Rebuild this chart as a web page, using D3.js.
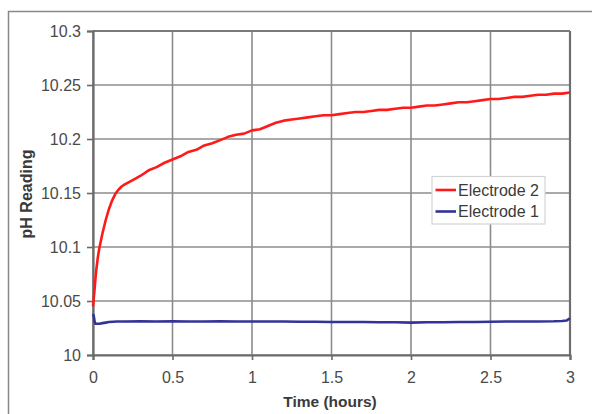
<!DOCTYPE html>
<html>
<head>
<meta charset="utf-8">
<script src="https://cdn.jsdelivr.net/npm/d3@7"></script>
<style>
  html, body { margin: 0; padding: 0; background: #ffffff; }
  svg { display: block; }
  text { font-family: "Liberation Sans", Arial, sans-serif; }
</style>
</head>
<body>
<svg id="chart" width="592" height="414"></svg>
<script>
// ---- data ----
const xTicks = [0, 0.5, 1, 1.5, 2, 2.5, 3];
const yTicks = [10, 10.05, 10.1, 10.15, 10.2, 10.25, 10.3];
const seriesNames = ["Electrode 2", "Electrode 1"];

const timeE2 = [0, 0.005, 0.01, 0.015, 0.02, 0.03, 0.04, 0.05, 0.06, 0.07, 0.08, 0.1, 0.12, 0.14, 0.16, 0.18, 0.2,
  0.25, 0.3, 0.35, 0.4, 0.45, 0.5, 0.55, 0.6, 0.65, 0.7, 0.75, 0.8, 0.85, 0.9, 0.95, 1.0,
  1.05, 1.1, 1.15, 1.2, 1.25, 1.3, 1.35, 1.4, 1.45, 1.5, 1.55, 1.6, 1.65, 1.7, 1.75, 1.8, 1.85, 1.9, 1.95, 2.0,
  2.05, 2.1, 2.15, 2.2, 2.25, 2.3, 2.35, 2.4, 2.45, 2.5, 2.55, 2.6, 2.65, 2.7, 2.75, 2.8, 2.85, 2.9, 2.95, 3.0];
const phE2 = [10.045, 10.053, 10.061, 10.070, 10.078, 10.090, 10.099, 10.106, 10.113, 10.119, 10.125, 10.135, 10.143, 10.149, 10.153, 10.156, 10.158,
  10.162, 10.166, 10.171, 10.174, 10.178, 10.181, 10.184, 10.188, 10.190, 10.194, 10.196, 10.199, 10.202, 10.204, 10.205, 10.208,
  10.209, 10.212, 10.215, 10.217, 10.218, 10.219, 10.220, 10.221, 10.222, 10.222, 10.223, 10.224, 10.225, 10.225, 10.226, 10.227, 10.227, 10.228, 10.229, 10.229,
  10.230, 10.231, 10.231, 10.232, 10.233, 10.234, 10.234, 10.235, 10.236, 10.237, 10.237, 10.238, 10.239, 10.239, 10.240, 10.241, 10.241, 10.242, 10.242, 10.243];

const timeE1 = [0, 0.005, 0.01, 0.015, 0.02, 0.04, 0.06, 0.08, 0.1, 0.15, 0.2, 0.3, 0.4, 0.5, 0.6, 0.7, 0.8, 0.9, 1.0,
  1.1, 1.2, 1.3, 1.4, 1.5, 1.6, 1.7, 1.8, 1.9, 2.0, 2.1, 2.2, 2.3, 2.4, 2.5, 2.6, 2.7, 2.8, 2.9, 2.95, 2.98, 3.0];
const phE1 = [10.038, 10.036, 10.031, 10.029, 10.029, 10.029, 10.0295, 10.030, 10.0305, 10.031, 10.031, 10.0312, 10.031, 10.0312, 10.031, 10.031, 10.0312, 10.031, 10.031,
  10.031, 10.031, 10.0308, 10.0308, 10.0305, 10.0305, 10.0305, 10.0303, 10.0303, 10.030, 10.0303, 10.0303, 10.0305, 10.0305, 10.0308, 10.031, 10.031, 10.031, 10.0312, 10.0315, 10.032, 10.034];

const colors = ["#ff1a1a", "#333399"];

// ---- layout ----
const svg = d3.select("#chart");
const plot = { left: 93, right: 570, top: 31, bottom: 355 };

const x = d3.scaleLinear().domain([0, 3]).range([plot.left, plot.right]);
const y = d3.scaleLinear().domain([10, 10.3]).range([plot.bottom, plot.top]);

// outer chart frame
svg.append("rect")
  .attr("x", 8.5).attr("y", 11.5)
  .attr("width", 700).attr("height", 500)
  .attr("fill", "#ffffff")
  .attr("stroke", "#888888").attr("stroke-width", 1.5);

// gridlines
const grid = svg.append("g");
grid.selectAll("line.h").data(yTicks).join("line")
  .attr("x1", plot.left).attr("x2", plot.right)
  .attr("y1", d => y(d)).attr("y2", d => y(d))
  .attr("stroke", "#8c8c8c").attr("stroke-width", 1.6);
grid.selectAll("line.v").data(xTicks).join("line")
  .attr("y1", plot.top).attr("y2", plot.bottom)
  .attr("x1", d => x(d)).attr("x2", d => x(d))
  .attr("stroke", "#8c8c8c").attr("stroke-width", 1.6);

// plot border (right side darker)
svg.append("line").attr("x1", plot.right).attr("x2", plot.right)
  .attr("y1", plot.top).attr("y2", plot.bottom)
  .attr("stroke", "#6e6e6e").attr("stroke-width", 2.2);
svg.append("line").attr("x1", plot.left).attr("x2", plot.right)
  .attr("y1", plot.top).attr("y2", plot.top)
  .attr("stroke", "#7a7a7a").attr("stroke-width", 1.8);

// axes
const yAxis = d3.axisLeft(y).tickValues(yTicks).tickSize(6).tickPadding(6)
  .tickFormat(d => d3.format("")(+d.toFixed(2)));
const xAxis = d3.axisBottom(x).tickValues(xTicks).tickSize(5).tickPadding(12)
  .tickFormat(d => d3.format("")(d));

const gy = svg.append("g").attr("transform", `translate(${plot.left},0)`).call(yAxis);
const gx = svg.append("g").attr("transform", `translate(0,${plot.bottom})`).call(xAxis);
[gx, gy].forEach(g => {
  g.select(".domain").attr("stroke", "#6a6a6a").attr("stroke-width", 2.2);
  g.selectAll(".tick line").attr("stroke", "#6a6a6a").attr("stroke-width", 1.6);
  g.selectAll(".tick text").attr("fill", "#4a4a4a")
    .style("font-size", "16px").style("font-family", "'Liberation Sans', Arial, sans-serif");
});

// lines
const line = d3.line().x(d => x(d[0])).y(d => y(d[1]));
const e2 = timeE2.map((t, i) => [t, phE2[i]]);
const e1 = timeE1.map((t, i) => [t, phE1[i]]);
svg.append("path").datum(e1).attr("d", line)
  .attr("fill", "none").attr("stroke", colors[1]).attr("stroke-width", 2.6)
  .attr("stroke-linejoin", "round");
svg.append("path").datum(e2).attr("d", line)
  .attr("fill", "none").attr("stroke", colors[0]).attr("stroke-width", 2.6)
  .attr("stroke-linejoin", "round");

// axis titles
svg.append("text").attr("x", 330).attr("y", 407)
  .attr("text-anchor", "middle").attr("font-weight", "bold")
  .attr("font-size", 15.5).attr("fill", "#3a3a3a").text("Time (hours)");
svg.append("text").attr("transform", "translate(32,194) rotate(-90)")
  .attr("text-anchor", "middle").attr("font-weight", "bold")
  .attr("font-size", 16).attr("fill", "#3a3a3a").text("pH Reading");

// legend
const lg = svg.append("g");
lg.append("rect").attr("x", 432).attr("y", 176.5).attr("width", 113).attr("height", 47.5)
  .attr("fill", "#ffffff").attr("stroke", "#d4d4d4").attr("stroke-width", 1.2);
seriesNames.forEach((name, i) => {
  const cy = 190 + i * 21.5;
  lg.append("line").attr("x1", 435.5).attr("x2", 456).attr("y1", cy).attr("y2", cy)
    .attr("stroke", colors[i]).attr("stroke-width", 2.6);
  lg.append("text").attr("x", 458).attr("y", cy + 5.5)
    .attr("font-size", 16).attr("fill", "#3a3a3a").text(name);
});
</script>
</body>
</html>
